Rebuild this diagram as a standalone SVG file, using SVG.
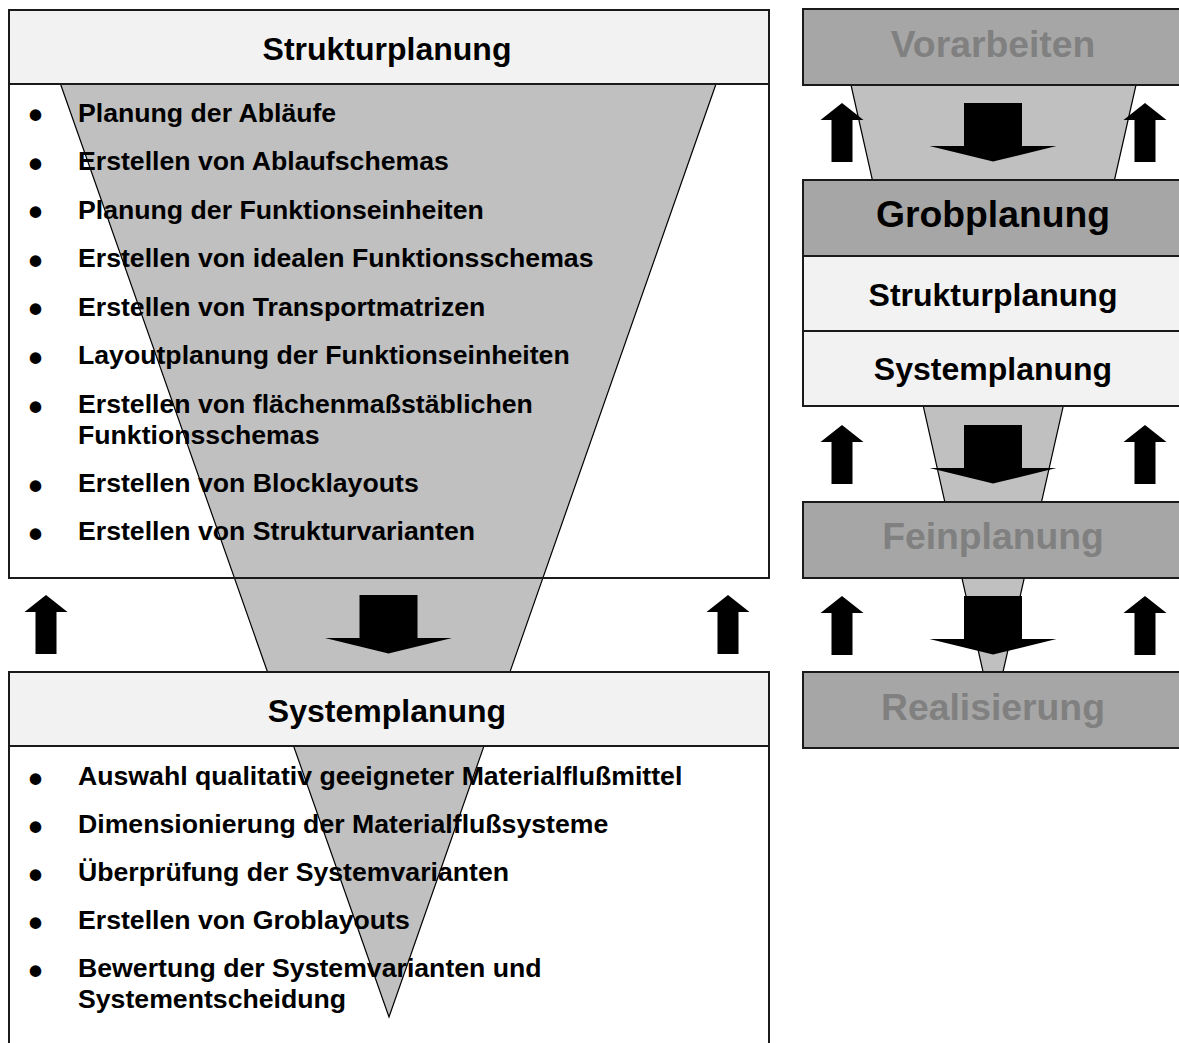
<svg xmlns="http://www.w3.org/2000/svg" width="1179" height="1043" viewBox="0 0 1179 1043">
<style>
.hd{font-family:"Liberation Sans",Arial,sans-serif;font-weight:bold;font-size:32px;fill:#000;text-anchor:middle}
.big{font-family:"Liberation Sans",Arial,sans-serif;font-weight:bold;font-size:37.3px;text-anchor:middle}
.dim{fill:#808080}
.blk{fill:#000}
.it{font-family:"Liberation Sans",Arial,sans-serif;font-weight:bold;font-size:26.67px;fill:#000}
.bl{font-family:"Liberation Sans",Arial,sans-serif;font-weight:bold;font-size:40px;fill:#000}
.box{stroke:#1a1a1a;stroke-width:2}
.light{fill:#f2f2f2}
.grey{fill:#a6a6a6}
.fun{fill:#c0c0c0;stroke:#000;stroke-width:1.2}
.arr{fill:#000}
</style>
<defs>
<path id="up" d="M0,0 L21.5,17 L10.5,17 L10.5,59 L-10.5,59 L-10.5,17 L-21.5,17 Z"/>
<path id="down" d="M-29,0 H29 V43 H63.5 L0,58.5 L-63.5,43 H-29 Z"/>
</defs>

<!-- left column -->
<g id="struktur-panel">
<rect x="9" y="10" width="760" height="568" fill="#fff"/>
</g>
<g id="system-panel">
<rect x="9" y="672" width="760" height="400" fill="#fff"/>
</g>
<g id="funnel-left">
<polygon class="fun" points="60.5,84 716,84 389,1017"/>
</g>
<rect x="9" y="10" width="760" height="568" fill="none" class="box"/>
<rect x="9" y="672" width="760" height="400" fill="none" class="box"/>
<g id="struktur-header">
<rect x="9" y="10" width="760" height="74" class="box light"/>
<text class="hd" x="387" y="59.5">Strukturplanung</text>
</g>
<g id="system-header">
<rect x="9" y="672" width="760" height="74" class="box light"/>
<text class="hd" x="387" y="722">Systemplanung</text>
</g>
<g id="struktur-list">
<text class="bl" x="28.5" y="129">•</text><text class="it" x="78" y="121.5">Planung der Abläufe</text>
<text class="bl" x="28.5" y="177.5">•</text><text class="it" x="78" y="170">Erstellen von Ablaufschemas</text>
<text class="bl" x="28.5" y="226">•</text><text class="it" x="78" y="218.5">Planung der Funktionseinheiten</text>
<text class="bl" x="28.5" y="274.5">•</text><text class="it" x="78" y="267">Erstellen von idealen Funktionsschemas</text>
<text class="bl" x="28.5" y="323">•</text><text class="it" x="78" y="315.5">Erstellen von Transportmatrizen</text>
<text class="bl" x="28.5" y="371.5">•</text><text class="it" x="78" y="364">Layoutplanung der Funktionseinheiten</text>
<text class="bl" x="28.5" y="420.5">•</text><text class="it" x="78" y="413">Erstellen von flächenmaßstäblichen</text>
<text class="it" x="78" y="444">Funktionsschemas</text>
<text class="bl" x="28.5" y="499.5">•</text><text class="it" x="78" y="492">Erstellen von Blocklayouts</text>
<text class="bl" x="28.5" y="547.5">•</text><text class="it" x="78" y="540">Erstellen von Strukturvarianten</text>
</g>
<g id="system-list">
<text class="bl" x="28.5" y="792.5">•</text><text class="it" x="78" y="785">Auswahl qualitativ geeigneter Materialflußmittel</text>
<text class="bl" x="28.5" y="840.5">•</text><text class="it" x="78" y="833">Dimensionierung der Materialflußsysteme</text>
<text class="bl" x="28.5" y="888.5">•</text><text class="it" x="78" y="881">Überprüfung der Systemvarianten</text>
<text class="bl" x="28.5" y="936.5">•</text><text class="it" x="78" y="929">Erstellen von Groblayouts</text>
<text class="bl" x="28.5" y="984.5">•</text><text class="it" x="78" y="977">Bewertung der Systemvarianten und</text>
<text class="it" x="78" y="1008">Systementscheidung</text>
</g>

<!-- right column -->
<g id="funnel-right">
<polygon class="fun" points="851,85 1136,85 993,716"/>
</g>
<g id="vorarbeiten">
<rect x="803" y="9" width="380" height="76" class="box grey"/>
<text class="big dim" x="993" y="57">Vorarbeiten</text>
</g>
<g id="grobplanung">
<rect x="803" y="180" width="380" height="76" class="box grey"/>
<text class="big blk" x="993" y="227">Grobplanung</text>
</g>
<g id="strukturplanung-r">
<rect x="803" y="256" width="380" height="75" class="box light"/>
<text class="hd" x="993" y="306">Strukturplanung</text>
</g>
<g id="systemplanung-r">
<rect x="803" y="331" width="380" height="75" class="box light"/>
<text class="hd" x="993" y="380">Systemplanung</text>
</g>
<g id="feinplanung">
<rect x="803" y="502" width="380" height="76" class="box grey"/>
<text class="big dim" x="993" y="549">Feinplanung</text>
</g>
<g id="realisierung">
<rect x="803" y="672" width="380" height="76" class="box grey"/>
<text class="big dim" x="993" y="720">Realisierung</text>
</g>

<g id="connectors" class="arr">
<use href="#up" x="46" y="595"/>
<use href="#up" x="728" y="595"/>
<use href="#down" x="388.5" y="595"/>
<use href="#up" x="842" y="103"/>
<use href="#up" x="1145" y="103"/>
<use href="#down" x="993" y="103"/>
<use href="#up" x="842" y="425"/>
<use href="#up" x="1145" y="425"/>
<use href="#down" x="993" y="425"/>
<use href="#up" x="842" y="596"/>
<use href="#up" x="1145" y="596"/>
<use href="#down" x="993" y="596"/>
</g>
</svg>
